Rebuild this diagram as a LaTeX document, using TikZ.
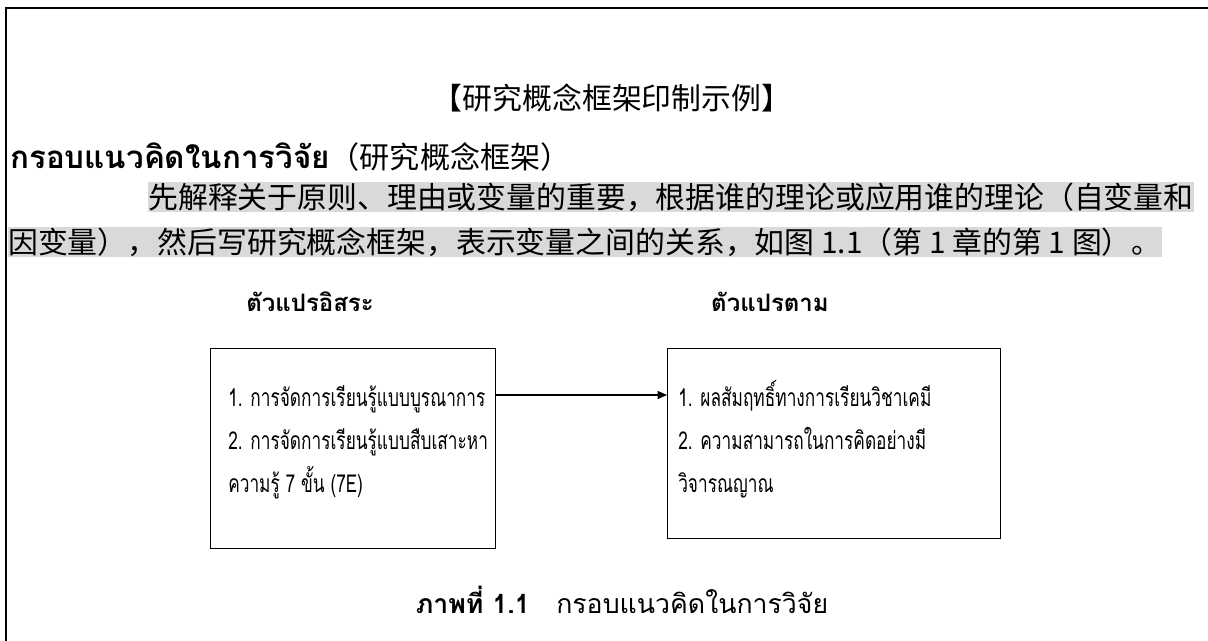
\documentclass[tikz,border=0pt]{standalone}
\usepackage{fontspec}
\newfontfamily\cjk{Noto Sans CJK SC}
\newfontfamily\thai[Script=Thai,FakeStretch=0.7]{Loma}
\newfontfamily\thaihead[Script=Thai]{Loma}
\usetikzlibrary{arrows.meta}
\tikzset{
  cntext/.style={font=\cjk\fontsize{22.4}{26}\selectfont,inner sep=0},
  hl/.style={fill=black!15,minimum height=22.5pt},
  thtext/.style={font=\thai\fontsize{18.5}{22}\selectfont,inner sep=0},
  thlabel/.style={font=\thaihead\bfseries\fontsize{18}{22}\selectfont,inner sep=0},
  varbox/.style={draw,line width=0.7pt,inner sep=0},
}
\begin{document}
\begin{tikzpicture}[x=0.75pt,y=-0.75pt]
\useasboundingbox (0,0) rectangle (1208,641);
% frame (top and left only)
\draw[line width=1.3pt] (6,641)--(6,8)--(1208,8);
% title and heading
\node[cntext] (title) at (612,98) {【研究概念框架印制示例】};
\node[inner sep=0,anchor=west] (head) at (10,157) {{\thaihead\bfseries\fontsize{23.5}{26}\selectfont กรอบแนวคิดในการวิจัย}{\cjk\fontsize{22.6}{24}\selectfont（研究概念框架）}};
% highlighted paragraph
\node[cntext,hl,anchor=west] (par1) at (148,197) {先解释关于原则、理由或变量的重要，根据谁的理论或应用谁的理论（自变量和};
\node[cntext,hl,anchor=west] (par2) at (8,242) {因变量），然后写研究概念框架，表示变量之间的关系，如图 1.1（第 1 章的第 1 图）。};
% variable headings
\node[thlabel] (ivlab) at (310,302) {ตัวแปรอิสระ};
\node[thlabel] (dvlab) at (770,302) {ตัวแปรตาม};
% boxes
\node[varbox,anchor=north west,minimum width=213.75pt,minimum height=150pt] (iv) at (210,348) {};
\node[varbox,anchor=north west,minimum width=249.75pt,minimum height=142.5pt] (dv) at (667,348) {};
\node[thtext,anchor=base west] (iv1) at (228,407) {1. การจัดการเรียนรู้แบบบูรณาการ};
\node[thtext,anchor=base west] (iv2) at (228,450) {2. การจัดการเรียนรู้แบบสืบเสาะหา};
\node[thtext,anchor=base west] (iv3) at (228,493) {ความรู้ 7 ขั้น (7E)};
\node[thtext,anchor=base west] (dv1) at (678,407) {1. ผลสัมฤทธิ์ทางการเรียนวิชาเคมี};
\node[thtext,anchor=base west] (dv2) at (678,450) {2. ความสามารถในการคิดอย่างมี};
\node[thtext,anchor=base west] (dv3) at (678,493) {วิจารณญาณ};
\draw[-{Triangle[length=7pt,width=6pt]},line width=0.8pt] (iv.east |- 0,395) -- (dv.west |- 0,395);
% caption
\node[inner sep=0,font=\thaihead\fontsize{20}{22}\selectfont] (cap) at (622,600) {{\bfseries ภาพที่ 1.1}\quad กรอบแนวคิดในการวิจัย};
\end{tikzpicture}
\end{document}
